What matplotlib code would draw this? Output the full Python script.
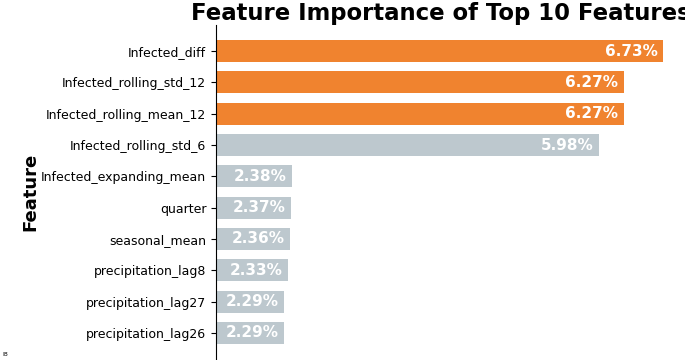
import matplotlib.pyplot as plt

features = ['Infected_diff', 'Infected_rolling_std_12', 'Infected_rolling_mean_12',
            'Infected_rolling_std_6', 'Infected_expanding_mean', 'quarter',
            'seasonal_mean', 'precipitation_lag8', 'precipitation_lag27',
            'precipitation_lag26']
importance = [6.73, 6.27, 6.27, 5.98, 2.38, 2.37, 2.36, 2.33, 2.29, 2.29]
n_top = 3

orange = '#f0832f'
grey = '#bdc8ce'
colors = [orange if i < n_top else grey for i in range(len(features))]

fig = plt.figure(figsize=(6.85, 3.6), dpi=100)
ax = fig.add_axes([216/685, 1/360, (666-216)/685, 334/360])

ypos = list(range(len(features)))[::-1]
bars = ax.barh(ypos, importance, height=0.7, color=colors)

ax.set_xlim(min(importance)*0.65, max(importance) + 0.035)
ax.set_yticks(ypos)
ax.set_yticklabels(features, fontsize=9)
ax.set_ylabel('Feature', fontsize=13, fontweight='bold', labelpad=1.5)
ax.set_title('Feature Importance of Top 10 Features', fontsize=16.4, fontweight='bold', pad=3)

for b, v in zip(bars, importance):
    ax.annotate(f'{v:.2f}%', (b.get_width(), b.get_y() + b.get_height()/2),
                xytext=(-4, 0), textcoords='offset points', ha='right', va='center',
                color='white', fontsize=11, fontweight='bold')

for s in ['top', 'right', 'bottom']:
    ax.spines[s].set_visible(False)
ax.tick_params(axis='x', bottom=False, labelbottom=False)

fig.text(0.003, 0.012, 'I8', fontsize=4.5)

fig.savefig('out.png', dpi=100)
